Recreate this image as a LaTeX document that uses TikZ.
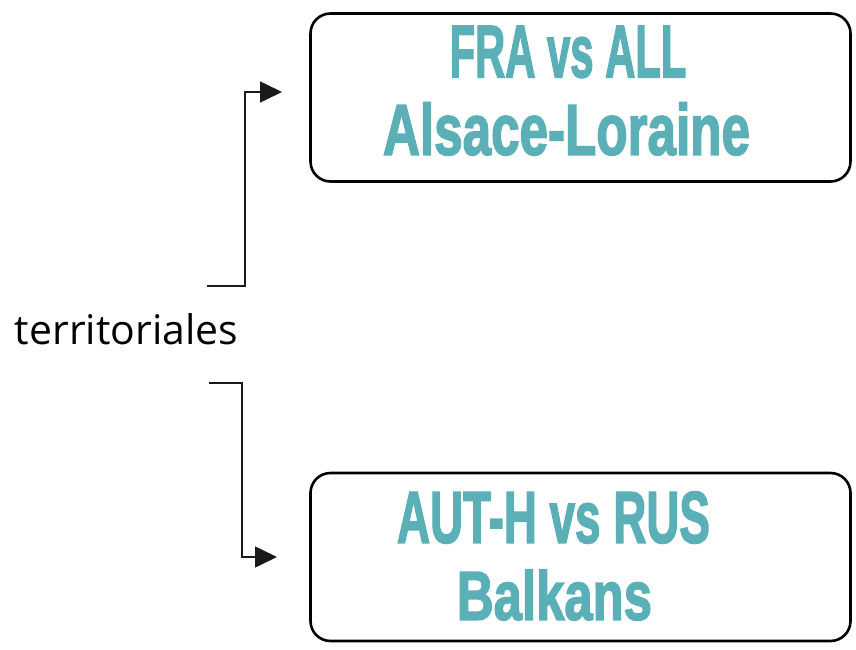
\documentclass[tikz,border=0pt]{standalone}
\usepackage{fontspec}
\setmainfont{Open Sans}
\newfontfamily\boldfam[BoldFeatures={FakeBold=2.5}]{Liberation Sans}
\usetikzlibrary{arrows.meta}
\definecolor{tealtxt}{HTML}{5BB0B8}
\definecolor{conngray}{HTML}{1A1A1A}
\tikzset{
  topicbox/.style={draw=black, line width=2.6pt, rounded corners=20pt, fill=white,
    minimum width=540pt, minimum height=168pt, inner sep=0pt},
  bigtxt/.style={inner sep=0pt, text=tealtxt, font=\boldfam\bfseries},
  conn/.style={draw=conngray, line width=1.6pt, -{Triangle[length=22pt,width=21pt]}},
}
\begin{document}
\begin{tikzpicture}[x=1pt,y=1pt]
\useasboundingbox (0,0) rectangle (856,649);
\node[topicbox] (top) at (580.5,551.5) {};
\node[topicbox] (bot) at (580.5,92) {};
\node[bigtxt] (t1) at (568,597) {\resizebox{237pt}{51pt}{FRA vs ALL}};
\node[bigtxt] (t2) at (566.5,520) {\resizebox{367pt}{52pt}{Alsace-Loraine}};
\node[bigtxt] (b1) at (553.5,131.5) {\resizebox{313pt}{51pt}{AUT-H vs RUS}};
\node[bigtxt] (b2) at (554.5,54) {\resizebox{195pt}{50pt}{Balkans}};
\node[inner sep=0pt] (terr) at (126.5,319.5) {\resizebox{223pt}{31pt}{territoriales}};
\coordinate (ts) at (207,363);
\coordinate (tb) at (245,363);
\coordinate (tt) at (282,557);
\coordinate (bs) at (209,266);
\coordinate (bb) at (242,266);
\coordinate (bt) at (277,92);
\draw[conn] (ts) -- (tb) |- (tt);
\draw[conn] (bs) -- (bb) |- (bt);
\end{tikzpicture}
\end{document}
